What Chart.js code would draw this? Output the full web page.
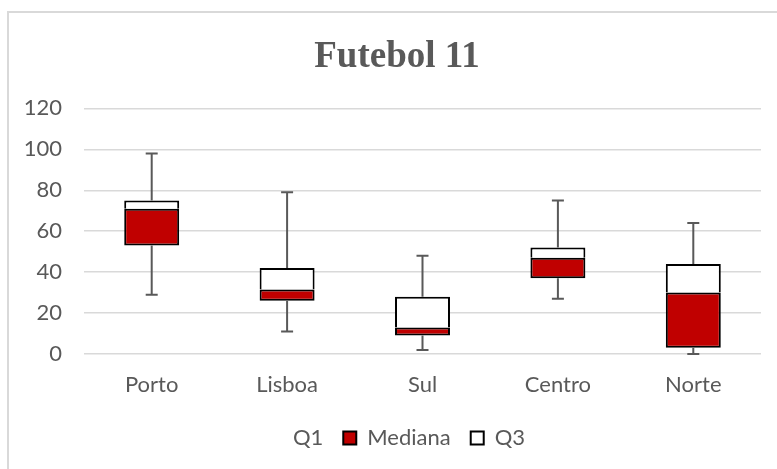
<!DOCTYPE html>
<html>
<head>
<meta charset="utf-8">
<script src="https://cdn.jsdelivr.net/npm/chart.js@4/dist/chart.umd.min.js"></script>
<style>
  html, body { margin: 0; padding: 0; background: #ffffff; }
  #wrap { position: relative; width: 777px; height: 469px; overflow: hidden; }
  #frame { position: absolute; left: 7px; top: 11px; width: 900px; height: 600px;
           border-left: 2px solid #d9d9d9; border-top: 2px solid #d9d9d9; }
  #box { position: absolute; left: 0; top: 0; width: 777px; height: 469px; }
</style>
</head>
<body>
<div id="wrap">
  <div id="frame"></div>
  <div id="box"><canvas id="c"></canvas></div>
</div>
<script>
// Regions and their five-number summaries
const categories = ['Porto', 'Lisboa', 'Sul', 'Centro', 'Norte'];
const minimo  = [29, 11, 2, 27, 0];
const q1      = [53, 26, 9, 37, 3];
const mediana = [71, 31.5, 13, 47, 30];
const q3      = [75, 42, 28, 52, 44];
const maximo  = [98, 79, 48, 75, 64];
const yTicks  = [0, 20, 40, 60, 80, 100, 120];

const textColor = '#595959';
const tickFont = { family: 'Lato, "Open Sans", sans-serif', size: 22 };

// Stacked segments: invisible base up to Q1, then Q1→median, then median→Q3
const segMediana = mediana.map((m, i) => m - q1[i]);
const segQ3 = q3.map((v, i) => v - mediana[i]);

// Whiskers from Q3 up to the maximum and from Q1 down to the minimum
const whiskers = {
  id: 'whiskers',
  afterDatasetsDraw(chart) {
    const { ctx, scales: { x, y } } = chart;
    ctx.save();
    ctx.strokeStyle = '#595959';
    ctx.lineWidth = 2;
    const cap = 6;
    categories.forEach((_, i) => {
      const px = x.getPixelForValue(i);
      const pairs = [[q3[i], maximo[i]], [q1[i], minimo[i]]];
      pairs.forEach(([from, to]) => {
        const y0 = y.getPixelForValue(from);
        const y1 = y.getPixelForValue(to);
        ctx.beginPath();
        ctx.moveTo(px, y0);
        ctx.lineTo(px, y1);
        ctx.moveTo(px - cap, y1);
        ctx.lineTo(px + cap, y1);
        ctx.stroke();
      });
    });
    ctx.restore();
  }
};

// Centre title and legend on the framed panel rather than the canvas
const panelCentre = {
  id: 'panelCentre',
  afterLayout(chart) {
    const dx = 33;
    if (chart.titleBlock) chart.titleBlock.left += dx;
    if (chart.legend) chart.legend.left += dx;
  }
};

new Chart(document.getElementById('c'), {
  type: 'bar',
  data: {
    labels: categories,
    datasets: [
      { label: 'Q1', data: q1, backgroundColor: 'rgba(0,0,0,0)', borderWidth: 0 },
      { label: 'Mediana', data: segMediana, backgroundColor: '#C00000',
        borderColor: '#000000', borderWidth: 2, borderSkipped: false },
      { label: 'Q3', data: segQ3, backgroundColor: '#FFFFFF',
        borderColor: '#000000', borderWidth: 2, borderSkipped: 'bottom' }
    ]
  },
  options: {
    responsive: true,
    maintainAspectRatio: false,
    animation: false,
    datasets: { bar: { categoryPercentage: 1, barPercentage: 0.406 } },
    layout: { padding: { top: 0, right: 16, bottom: 10, left: 0 } },
    plugins: {
      tooltip: { enabled: false },
      title: {
        display: true,
        text: 'Futebol 11',
        color: textColor,
        font: { family: '"Liberation Serif", "Times New Roman", serif', size: 37, weight: 'bold' },
        padding: { top: 35, bottom: 29 }
      },
      legend: {
        position: 'bottom',
        labels: {
          color: textColor,
          font: tickFont,
          boxWidth: 13,
          boxHeight: 13,
          padding: 20
        }
      }
    },
    scales: {
      x: {
        stacked: true,
        grid: { display: false, drawTicks: false },
        border: { display: false },
        ticks: { color: textColor, font: tickFont, padding: 18 },
        afterFit(scale) { scale.height = 53; }
      },
      y: {
        stacked: true,
        min: 0,
        max: 120,
        grid: { color: '#d9d9d9', lineWidth: 1.5, drawTicks: false },
        border: { display: false },
        afterBuildTicks(scale) { scale.ticks = yTicks.map(v => ({ value: v })); },
        ticks: { color: textColor, font: tickFont, padding: 22 },
        afterFit(scale) { scale.width = 84; }
      }
    }
  },
  plugins: [whiskers, panelCentre]
});
</script>
</body>
</html>
